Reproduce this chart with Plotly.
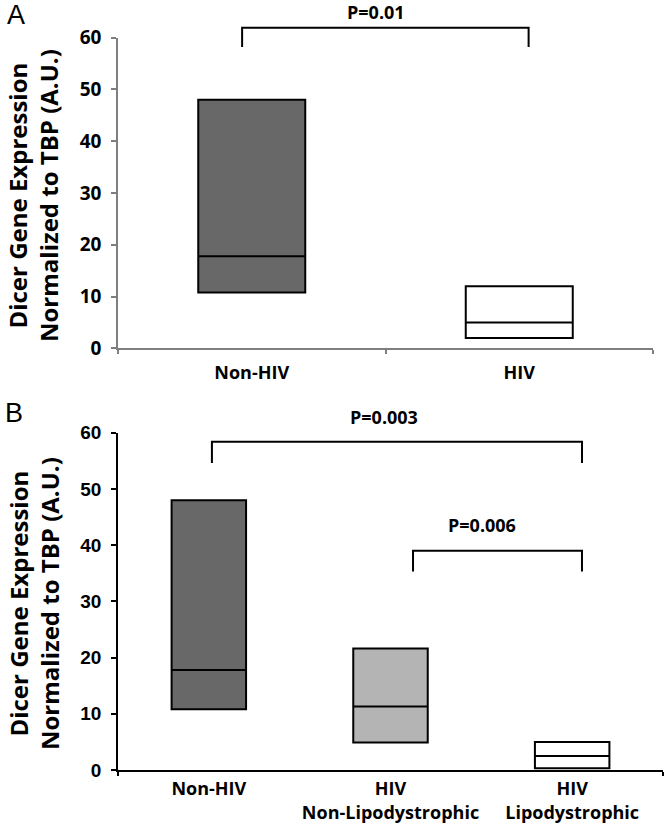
import plotly.graph_objects as go

# ---------------- data ----------------
cats_a = ["Non-HIV", "HIV"]
q1_a = [10.8, 2.0]
med_a = [17.8, 5.0]
q3_a = [48.0, 12.0]

cats_b = ["Non-HIV", "HIV<br>Non-Lipodystrophic", "HIV<br>Lipodystrophic"]
q1_b = [10.8, 4.9, 0.3]
med_b = [17.8, 11.3, 2.5]
q3_b = [48.0, 21.6, 5.0]

yticks = [0, 10, 20, 30, 40, 50, 60]

# brackets: (x_left, x_right, y_top, y_leg, label, label_x, label_y)
brackets_a = [(-0.036, 1.035, 61.9, 58.2, "P=0.01", 0.464, 65.0)]
brackets_b = [(0.017, 2.054, 58.4, 54.6, "P=0.003", 0.964, 62.8),
              (1.124, 2.054, 39.0, 35.3, "P=0.006", 1.503, 43.5)]

fills_a = ["#686868", "#ffffff"]
fills_b = ["#686868", "#b4b4b4", "#ffffff"]

W, H = 666, 827
fig = go.Figure()

def add_box(xa, ya, i, q1, med, q3, fill, width):
    fig.add_trace(go.Box(
        x=[i], q1=[q1], median=[med], q3=[q3], lowerfence=[q1], upperfence=[q3],
        width=width, fillcolor=fill, line=dict(color="black", width=2),
        whiskerwidth=0, boxpoints=False, showlegend=False, hoverinfo="skip",
        xaxis=xa, yaxis=ya))

for i in range(len(cats_a)):
    add_box("x", "y", i, q1_a[i], med_a[i], q3_a[i], fills_a[i], 0.40)
for i in range(len(cats_b)):
    add_box("x2", "y2", i, q1_b[i], med_b[i], q3_b[i], fills_b[i], 0.41)

pfont = dict(family="Open Sans", size=18, color="black", weight="bold")

def add_brackets(brs, xa, ya):
    for (xl, xr, yt, yl, lab, lx, ly) in brs:
        fig.add_trace(go.Scatter(
            x=[xl, xl, xr, xr], y=[yl, yt, yt, yl], mode="lines",
            line=dict(color="black", width=2), showlegend=False, hoverinfo="skip",
            xaxis=xa, yaxis=ya, cliponaxis=False))
        fig.add_annotation(x=lx, y=ly, xref=xa, yref=ya, text=lab, showarrow=False,
                           font=pfont, xanchor="center", yanchor="middle")

# helper (invisible) subplots sharing the scale of panels A and B, taller so the
# brackets and P labels above 60 are not clipped
add_brackets(brackets_a, "x3", "y3")
add_brackets(brackets_b, "x4", "y4")

# domains (paper)
pxA0, pxA60 = 348.3, 37.7
pxB0, pxB60 = 770.0, 432.7
EXT_A = 67
EXT_B = 70
ppuA = (pxA0 - pxA60) / 60
ppuB = (pxB0 - pxB60) / 60
xdomA = [118 / W, 653 / W]
xdomB = [118 / W, 663 / W]
ydomA = [1 - pxA0 / H, 1 - pxA60 / H]
ydomA_ext = [1 - pxA0 / H, min(1.0, 1 - (pxA0 - EXT_A * ppuA) / H)]
ydomB = [1 - pxB0 / H, 1 - pxB60 / H]
ydomB_ext = [1 - pxB0 / H, 1 - (pxB0 - EXT_B * ppuB) / H]

grey = "#7f7f7f"
fontA = dict(family="Open Sans", size=19, color="black", weight="bold")
fontAx = dict(family="Open Sans", size=18, color="black", weight="bold")
fontB = dict(family="Liberation Sans", size=19, color="black", weight="bold")
fontBx = dict(family="Open Sans", size=18, color="black", weight="bold")

fig.update_layout(
    width=W, height=H, margin=dict(l=0, r=0, t=0, b=0, autoexpand=False),
    paper_bgcolor="white", plot_bgcolor="rgba(0,0,0,0)",
    boxmode="overlay",
    xaxis=dict(domain=xdomA, range=[-0.5, 1.5], anchor="y", automargin=False,
               tickmode="array", tickvals=list(range(len(cats_a))), ticktext=cats_a,
               ticks="", showline=True, linecolor=grey, linewidth=1.5,
               showgrid=False, zeroline=False, tickfont=fontAx, ticklabelstandoff=7,
               minor=dict(tickmode="array", tickvals=[-0.5, 0.5, 1.5], ticks="outside",
                          ticklen=4, tickcolor=grey, tickwidth=1.5, showgrid=False)),
    yaxis=dict(domain=ydomA, range=[0, 60], anchor="x", automargin=False,
               tickmode="array", tickvals=yticks, ticks="outside", ticklen=5,
               tickcolor=grey, tickwidth=1.5, showline=True, linecolor=grey, linewidth=1.5,
               showgrid=False, zeroline=False, tickfont=fontA, ticklabelstandoff=6),
    xaxis3=dict(domain=xdomA, range=[-0.5, 1.5], anchor="y3", visible=False, automargin=False),
    yaxis3=dict(domain=ydomA_ext, range=[0, EXT_A], anchor="x3", visible=False, automargin=False),
    xaxis2=dict(domain=xdomB, range=[-0.5, 2.5], anchor="y2", automargin=False,
                tickmode="array", tickvals=list(range(len(cats_b))), ticktext=cats_b,
                ticks="", showline=True, linecolor="black", linewidth=1.5,
                showgrid=False, zeroline=False, tickfont=fontBx, ticklabelstandoff=2,
                minor=dict(tickmode="array", tickvals=[-0.5, 2.5], ticks="outside",
                           ticklen=4, tickcolor="black", tickwidth=1.5, showgrid=False)),
    yaxis2=dict(domain=ydomB, range=[0, 60], anchor="x2", automargin=False,
                tickmode="array", tickvals=yticks, ticks="outside", ticklen=5,
                tickcolor="black", tickwidth=1.5, showline=True, linecolor="black", linewidth=1.5,
                showgrid=False, zeroline=False, tickfont=fontB, ticklabelstandoff=6),
    xaxis4=dict(domain=xdomB, range=[-0.5, 2.5], anchor="y4", visible=False, automargin=False),
    yaxis4=dict(domain=ydomB_ext, range=[0, EXT_B], anchor="x4", visible=False, automargin=False),
)

ytitle = "Dicer Gene Expression<br>Normalized to TBP (A.U.)"
fig.add_annotation(x=33 / W, y=1 - 196 / H, xref="paper", yref="paper", text=ytitle,
                   textangle=-90, showarrow=False,
                   font=dict(family="Open Sans", size=24, color="black", weight="bold"),
                   xanchor="center", yanchor="middle")
fig.add_annotation(x=34 / W, y=1 - 604 / H, xref="paper", yref="paper", text=ytitle,
                   textangle=-90, showarrow=False,
                   font=dict(family="Open Sans", size=24, color="black", weight="bold"),
                   xanchor="center", yanchor="middle")

letterfont = dict(family="Liberation Sans", size=27, color="black")
fig.add_annotation(x=16 / W, y=1 - 15 / H, xref="paper", yref="paper", text="A",
                   showarrow=False, font=letterfont, xanchor="center", yanchor="middle")
fig.add_annotation(x=14.5 / W, y=1 - 413 / H, xref="paper", yref="paper", text="B",
                   showarrow=False, font=letterfont, xanchor="center", yanchor="middle")

fig.write_html("out.html", config={"displayModeBar": False},
               post_script="document.body.style.margin='0';document.body.style.overflow='hidden';")
